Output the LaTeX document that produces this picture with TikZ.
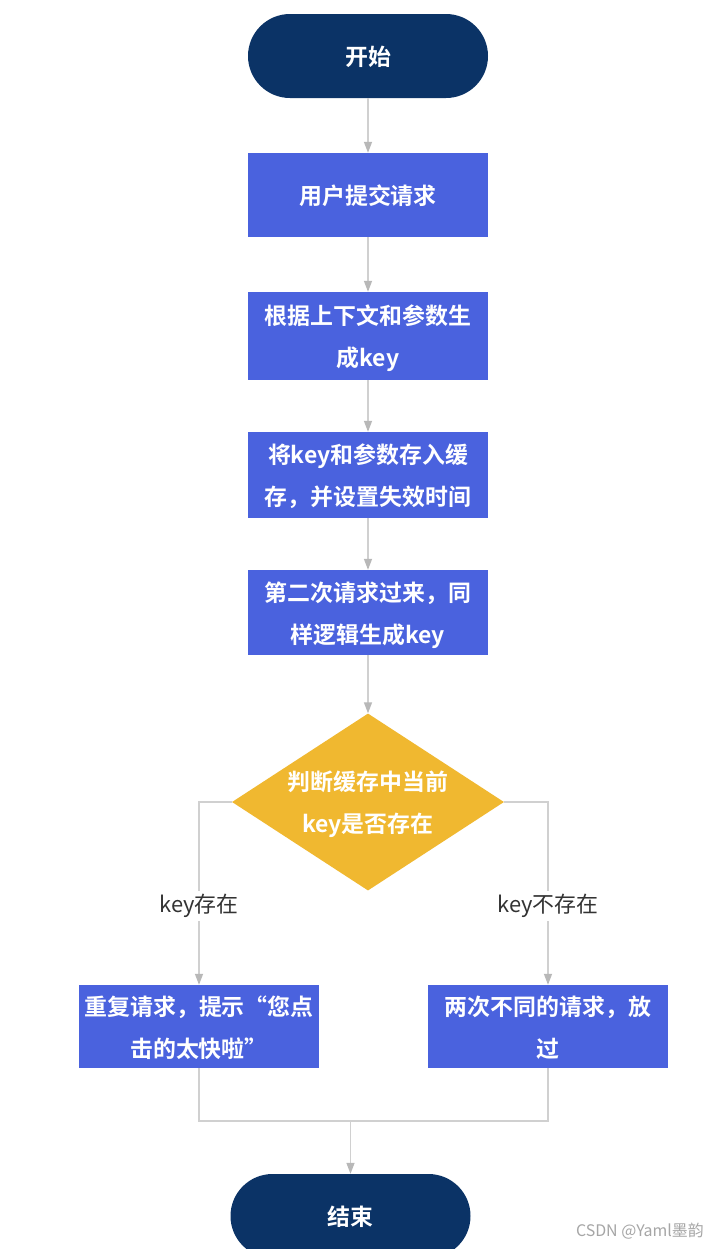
\documentclass[tikz,border=0pt]{standalone}
\usepackage{fontspec}
\setmainfont{Noto Sans CJK SC}[BoldFont={Noto Sans CJK SC Bold}]
\usetikzlibrary{shapes.geometric,arrows.meta}
\definecolor{navy}{HTML}{0B3366}
\definecolor{boxblue}{HTML}{4A62DE}
\definecolor{dyellow}{HTML}{F0B830}
\definecolor{lineg}{HTML}{D0D0D0}
\definecolor{tipg}{HTML}{B8B8B8}
\definecolor{labg}{HTML}{333333}
\tikzset{
  x=1bp, y=-1bp,
  basetext/.style={text=white, font=\bfseries\fontsize{23}{42}\selectfont, align=center, inner sep=0pt, text depth=0pt},
  terminal/.style={basetext, fill=navy, rounded corners=42bp, minimum width=240bp, minimum height=84bp},
  procbox/.style={basetext, fill=boxblue, minimum width=240bp, minimum height=85bp},
  decision/.style={diamond, fill=dyellow, minimum width=272bp, minimum height=177bp, inner sep=0pt},
  conn/.style={draw=lineg, line width=1.4bp},
  arr/.style={conn, -{Triangle[width=8bp,length=11bp,color=tipg]}},
  lab/.style={fill=white, text=labg, font=\fontsize{22}{26}\selectfont, inner sep=3bp}
}
\begin{document}
\begin{tikzpicture}
\useasboundingbox (0,0) rectangle (717,1249);
\clip (0,0) rectangle (717,1249);
\fill[white] (0,0) rectangle (717,1249);

\node[terminal] (start) at (368,56) {开始};
\node[procbox, minimum height=84bp] (b1) at (368,195) {用户提交请求};
\node[procbox, minimum height=88bp] (b2) at (368,336) {根据上下文和参数生\\成key};
\node[procbox, minimum height=86bp] (b3) at (368,475) {将key和参数存入缓\\存，并设置失效时间};
\node[procbox] (b4) at (368,612.5) {第二次请求过来，同\\样逻辑生成key};
\node[decision] (d) at (368,802) {};
\node[basetext] (dt) at (368,802) {判断缓存中当前\\key是否存在};
\node[procbox, minimum height=83bp] (L) at (199,1026.5) {重复请求，提示“您点\\击的太快啦”};
\node[procbox, minimum height=83bp] (R) at (548,1026.5) {两次不同的请求，放\\过};
\node[terminal] (end) at (350.5,1216) {结束};

\coordinate (lc) at (199,802);
\coordinate (rc) at (548,802);
\coordinate (ml) at (199,1121);
\coordinate (mr) at (548,1121);
\coordinate (mm) at (350.5,1121);

\draw[arr] (start.south) -- (b1.north);
\draw[arr] (b1.south) -- (b2.north);
\draw[arr] (b2.south) -- (b3.north);
\draw[arr] (b3.south) -- (b4.north);
\draw[arr] (b4.south) -- (d.north);
\draw[arr] (d.west) -- (lc) -- (L.north);
\draw[arr] (d.east) -- (rc) -- (R.north);
\node[lab] (ly) at (199,906) {key存在};
\node[lab] (ln) at (548,906) {key不存在};
\draw[conn] (L.south) -- (ml) -- (mr) -- (R.south);
\draw[arr] (mm) -- (end.north);

\node[anchor=east, text=gray!70, font=\fontsize{16}{18}\selectfont, inner sep=0pt] (wm) at (704,1231) {CSDN @Yaml墨韵};
\end{tikzpicture}
\end{document}
